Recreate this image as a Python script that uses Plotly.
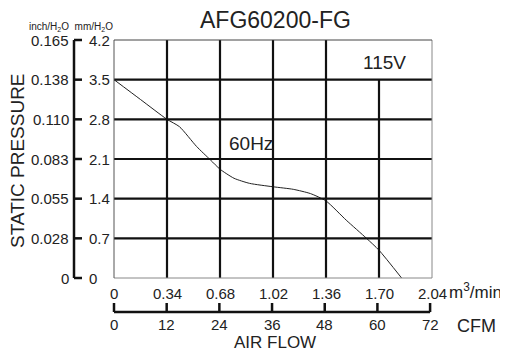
import plotly.graph_objects as go

# ---- data ----
flow_m3 = [0.0, 0.17, 0.34, 0.42, 0.53, 0.62, 0.68, 0.77, 0.87, 1.02, 1.15, 1.26, 1.36, 1.49, 1.62, 1.70, 1.845]
pressure_mm = [3.5, 3.15, 2.8, 2.67, 2.32, 2.08, 1.92, 1.76, 1.67, 1.61, 1.565, 1.49, 1.36, 1.02, 0.70, 0.49, 0.0]

m3_ticks = [0, 0.34, 0.68, 1.02, 1.36, 1.70, 2.04]
m3_labels = ["0", "0.34", "0.68", "1.02", "1.36", "1.70", "2.04"]
cfm_ticks = [0, 12, 24, 36, 48, 60, 72]
cfm_labels = ["0", "12", "24", "36", "48", "60", "72"]
mm_ticks = [0, 0.7, 1.4, 2.1, 2.8, 3.5, 4.2]
mm_labels = ["0", "0.7", "1.4", "2.1", "2.8", "3.5", "4.2"]
inch_labels = ["0", "0.028", "0.055", "0.083", "0.110", "0.138", "0.165"]

X_MAX = 2.04
Y_MAX = 4.2
CFM_MAX = 72

FONT = "Liberation Sans, Arial, sans-serif"
TXT = "#222222"

# the page body adds an 8px offset; figure is sized to compensate
OFF = 8
W, H = 508 - OFF, 351 - OFF
L, R, T, B = 114 - OFF, 76, 40 - OFF, 73
PW = W - L - R
PH = H - T - B


def px(xp):
    return (xp - OFF - L) / PW


def py(yp):
    return (H - B - (yp - OFF)) / PH


fig = go.Figure()
fig.add_trace(go.Scatter(
    x=flow_m3, y=pressure_mm, mode="lines",
    line=dict(color="#222222", width=1, shape="spline", smoothing=0.6),
    hoverinfo="skip", showlegend=False,
))

shapes = []
# grid
for v in m3_ticks[1:-1]:
    top = 3.5 if abs(v - 1.70) < 1e-9 else Y_MAX
    shapes.append(dict(type="line", xref="x", yref="y", x0=v, x1=v, y0=0, y1=top,
                       line=dict(color="#111111", width=2.2)))
for v in mm_ticks[1:-1]:
    shapes.append(dict(type="line", xref="x", yref="y", x0=0, x1=X_MAX, y0=v, y1=v,
                       line=dict(color="#111111", width=2.2)))
# frame
shapes.append(dict(type="line", xref="paper", yref="paper", x0=1, x1=1, y0=0, y1=1,
                   line=dict(color="#888888", width=1)))
shapes.append(dict(type="line", xref="paper", yref="paper", x0=0, x1=1, y0=0, y1=0,
                   line=dict(color="#888888", width=1)))
shapes.append(dict(type="line", xref="paper", yref="paper", x0=0, x1=0, y0=0, y1=1,
                   line=dict(color="#555555", width=1)))
shapes.append(dict(type="line", xref="paper", yref="paper", x0=0, x1=1, y0=1, y1=1,
                   line=dict(color="#444444", width=1)))

# left bracket axis
bx = px(74)
bt = px(82)
shapes.append(dict(type="line", xref="paper", yref="paper", x0=bx, x1=bx, y0=0, y1=1,
                   line=dict(color="#111111", width=2.5)))
for v in mm_ticks:
    yp = v / Y_MAX
    shapes.append(dict(type="line", xref="paper", yref="paper", x0=bx, x1=bt, y0=yp, y1=yp,
                       line=dict(color="#111111", width=2.5)))

# CFM axis
cy = py(312)
ct = py(303)
CF = 1 - 0.006
shapes.append(dict(type="line", xref="paper", yref="paper", x0=0, x1=CF, y0=cy, y1=cy,
                   line=dict(color="#111111", width=2.5)))
for v in cfm_ticks:
    xp = v / CFM_MAX * CF
    shapes.append(dict(type="line", xref="paper", yref="paper", x0=xp, x1=xp, y0=cy, y1=ct,
                       line=dict(color="#111111", width=2.5)))

ann = []


def A(text, x, y, size, xanchor="center", yanchor="middle", xref="paper", yref="paper", angle=0):
    ann.append(dict(text=text, x=x, y=y, xref=xref, yref=yref, showarrow=False,
                    xanchor=xanchor, yanchor=yanchor, textangle=angle,
                    font=dict(family=FONT, size=size, color=TXT)))


for v, t in zip(m3_ticks, m3_labels):
    A(t, v, py(293), 15, xref="x")
for v, t in zip(cfm_ticks, cfm_labels):
    A(t, v / CFM_MAX * CF, py(324), 15)
for v, t in zip(mm_ticks, mm_labels):
    A(t, px(87), v / Y_MAX, 15, xanchor="left")
for v, t in zip(mm_ticks, inch_labels):
    A(t, px(71), v / Y_MAX, 15, xanchor="right")

A("AFG60200-FG", px(275), py(20), 23)
A("115V", px(384), py(62), 19)
A("60Hz", px(251), py(143.5), 19)
A("STATIC PRESSURE", px(17), py(161), 19, angle=-90)
A("inch/H<sub>2</sub>O  mm/H<sub>2</sub>O", px(70.5), py(27), 10)
A("m<sup>3</sup>/min", px(447), py(291), 17, xanchor="left")
A("CFM", px(455), py(326), 18, xanchor="left")
A("AIR FLOW", px(275), py(342), 17)

fig.update_layout(
    width=W, height=H,
    margin=dict(l=L, r=R, t=T, b=B, pad=0),
    paper_bgcolor="white", plot_bgcolor="white",
    xaxis=dict(range=[0, X_MAX], showgrid=False, zeroline=False, showline=False,
               showticklabels=False, ticks="", fixedrange=True),
    yaxis=dict(range=[0, Y_MAX], showgrid=False, zeroline=False, showline=False,
               showticklabels=False, ticks="", fixedrange=True),
    shapes=shapes, annotations=ann, showlegend=False,
)

fig.write_html("out.html")
